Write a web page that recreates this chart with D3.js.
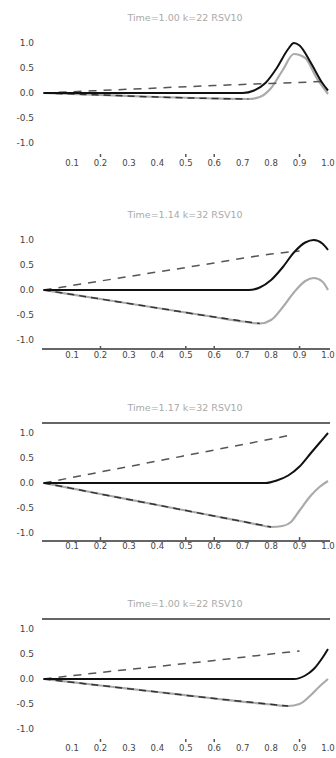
<!DOCTYPE html>
<html>
<head>
<meta charset="utf-8">
<script src="https://cdn.jsdelivr.net/npm/d3@7"></script>
<style>
  body { margin: 0; background: #fff; }
  svg { display: block; font-family: "DejaVu Sans", sans-serif; }
</style>
</head>
<body>
<div id="chart"></div>
<script>
// panel titles
const titles = ['Time=1.00 k=22 RSV10', 'Time=1.14 k=32 RSV10', 'Time=1.17 k=32 RSV10', 'Time=1.00 k=22 RSV10'];

const xTicks = [0.1, 0.2, 0.3, 0.4, 0.5, 0.6, 0.7, 0.8, 0.9, 1.0];
const xTickLabels = ['0.1', '0.2', '0.3', '0.4', '0.5', '0.6', '0.7', '0.8', '0.9', '1.0'];
const xMarks = [0.2, 0.5, 0.6, 0.9];
const yTicks = [1, 0.5, 0, -0.5, -1];
const yTickLabels = ['1.0', '0.5', '0.0', '-0.5', '-1.0'];

// solid (mean) curve, per panel
const solidX = [
  [0, 0.2, 0.4, 0.6, 0.7, 0.74, 0.78, 0.82, 0.86, 0.88, 0.9, 0.94, 0.98, 1.0],
  [0, 0.2, 0.4, 0.6, 0.72, 0.76, 0.8, 0.84, 0.88, 0.92, 0.95, 0.98, 1.0],
  [0, 0.2, 0.4, 0.6, 0.78, 0.82, 0.86, 0.9, 0.94, 0.97, 1.0],
  [0, 0.2, 0.4, 0.6, 0.8, 0.88, 0.92, 0.95, 0.98, 1.0]
];
const solidY = [
  [0, 0, 0, 0, 0, 0.05, 0.2, 0.5, 0.88, 1.0, 0.95, 0.6, 0.2, 0.05],
  [0, 0, 0, 0, 0, 0.05, 0.2, 0.45, 0.75, 0.95, 1.0, 0.93, 0.8],
  [0, 0, 0, 0, 0, 0.05, 0.15, 0.33, 0.6, 0.8, 1.0],
  [0, 0, 0, 0, 0, 0, 0.07, 0.2, 0.42, 0.6]
];

// upper dashed bound
const upperX = [
  [0, 0.2, 0.4, 0.6, 0.8, 0.98],
  [0, 0.2, 0.4, 0.6, 0.8, 0.9],
  [0, 0.2, 0.4, 0.6, 0.8, 0.88],
  [0, 0.2, 0.4, 0.6, 0.8, 0.9]
];
const upperY = [
  [0, 0.05, 0.1, 0.15, 0.19, 0.23],
  [0, 0.18, 0.36, 0.54, 0.72, 0.78],
  [0, 0.22, 0.44, 0.66, 0.88, 0.97],
  [0, 0.13, 0.25, 0.37, 0.5, 0.56]
];

// lower dashed bound
const lowerX = [
  [0, 0.2, 0.4, 0.6, 0.72],
  [0, 0.2, 0.4, 0.6, 0.76],
  [0, 0.2, 0.4, 0.6, 0.8],
  [0, 0.2, 0.4, 0.6, 0.86]
];
const lowerY = [
  [0, -0.04, -0.08, -0.11, -0.12],
  [0, -0.18, -0.36, -0.54, -0.67],
  [0, -0.22, -0.44, -0.66, -0.88],
  [0, -0.13, -0.26, -0.39, -0.54]
];

// gray curve
const grayX = [
  [0, 0.2, 0.4, 0.6, 0.72, 0.76, 0.8, 0.84, 0.88, 0.92, 0.96, 1.0],
  [0, 0.2, 0.4, 0.6, 0.7, 0.76, 0.8, 0.84, 0.88, 0.92, 0.95, 0.98, 1.0],
  [0, 0.2, 0.4, 0.6, 0.7, 0.76, 0.8, 0.84, 0.87, 0.9, 0.94, 0.97, 1.0],
  [0, 0.2, 0.4, 0.6, 0.8, 0.86, 0.9, 0.94, 0.97, 1.0]
];
const grayY = [
  [0, -0.04, -0.08, -0.11, -0.12, -0.08, 0.1, 0.45, 0.78, 0.7, 0.3, -0.02],
  [0, -0.18, -0.36, -0.54, -0.63, -0.67, -0.6, -0.35, -0.05, 0.18, 0.24, 0.17, 0.0],
  [0, -0.22, -0.44, -0.66, -0.77, -0.84, -0.88, -0.86, -0.78, -0.55, -0.25, -0.08, 0.04],
  [0, -0.13, -0.26, -0.39, -0.51, -0.54, -0.5, -0.32, -0.15, 0.0]
];

// horizontal rules per panel
const rules = [[], [-1.18], [1.2, -1.16], [1.2]];

const width = 336, height = 758;
const plotTop = [43, 240, 433, 629];
const plotH = 100;
const labelGap = [20, 15, 13, 19];

const svg = d3.select('#chart').append('svg')
  .attr('width', width)
  .attr('height', height);

const x = d3.scaleLinear().domain([0, 1]).range([43.6, 328]);

const line = d3.line()
  .x(d => x(d[0]))
  .y(d => d[1])
  .curve(d3.curveMonotoneX);

titles.forEach((title, i) => {
  const y = d3.scaleLinear().domain([-1, 1]).range([plotTop[i] + plotH, plotTop[i]]);
  const g = svg.append('g');

  g.append('text')
    .attr('x', 185)
    .attr('y', plotTop[i] - 22)
    .attr('text-anchor', 'middle')
    .style('font-size', '9.5px')
    .style('fill', '#aaa')
    .text(title);

  g.selectAll('.rule')
    .data(rules[i])
    .enter()
    .append('line')
    .attr('x1', 42)
    .attr('x2', 330)
    .attr('y1', d => y(d))
    .attr('y2', d => y(d))
    .style('stroke', '#666')
    .style('stroke-width', 2);

  g.selectAll('.ylab')
    .data(yTicks)
    .enter()
    .append('text')
    .attr('x', 34)
    .attr('y', d => y(d) + 3)
    .attr('text-anchor', 'end')
    .style('font-size', '9px')
    .style('fill', '#444')
    .text((d, j) => yTickLabels[j]);

  const labY = plotTop[i] + plotH + labelGap[i];
  g.selectAll('.xlab')
    .data(xTicks)
    .enter()
    .append('text')
    .attr('x', d => x(d))
    .attr('y', labY + 3)
    .attr('text-anchor', 'middle')
    .style('font-size', '8.5px')
    .style('fill', '#444')
    .text((d, j) => xTickLabels[j]);

  g.selectAll('.xmark')
    .data(xMarks)
    .enter()
    .append('line')
    .attr('x1', d => x(d))
    .attr('x2', d => x(d))
    .attr('y1', labY - 9)
    .attr('y2', labY - 6)
    .style('stroke', '#555')
    .style('stroke-width', 1.5);

  const pts = (xs, ys) => xs.map((v, j) => [v, y(ys[j])]);

  g.append('path')
    .attr('d', line(pts(grayX[i], grayY[i])))
    .style('fill', 'none')
    .style('stroke', '#aaa')
    .style('stroke-width', 2.2);

  g.append('path')
    .attr('d', line(pts(lowerX[i], lowerY[i])))
    .style('fill', 'none')
    .style('stroke', '#333')
    .style('stroke-width', 1.5)
    .style('stroke-dasharray', '7,5');

  g.append('path')
    .attr('d', line(pts(upperX[i], upperY[i])))
    .style('fill', 'none')
    .style('stroke', '#555')
    .style('stroke-width', 1.5)
    .style('stroke-dasharray', '8,7');

  g.append('path')
    .attr('d', line(pts(solidX[i], solidY[i])))
    .style('fill', 'none')
    .style('stroke', '#111')
    .style('stroke-width', 2);
});
</script>
</body>
</html>
